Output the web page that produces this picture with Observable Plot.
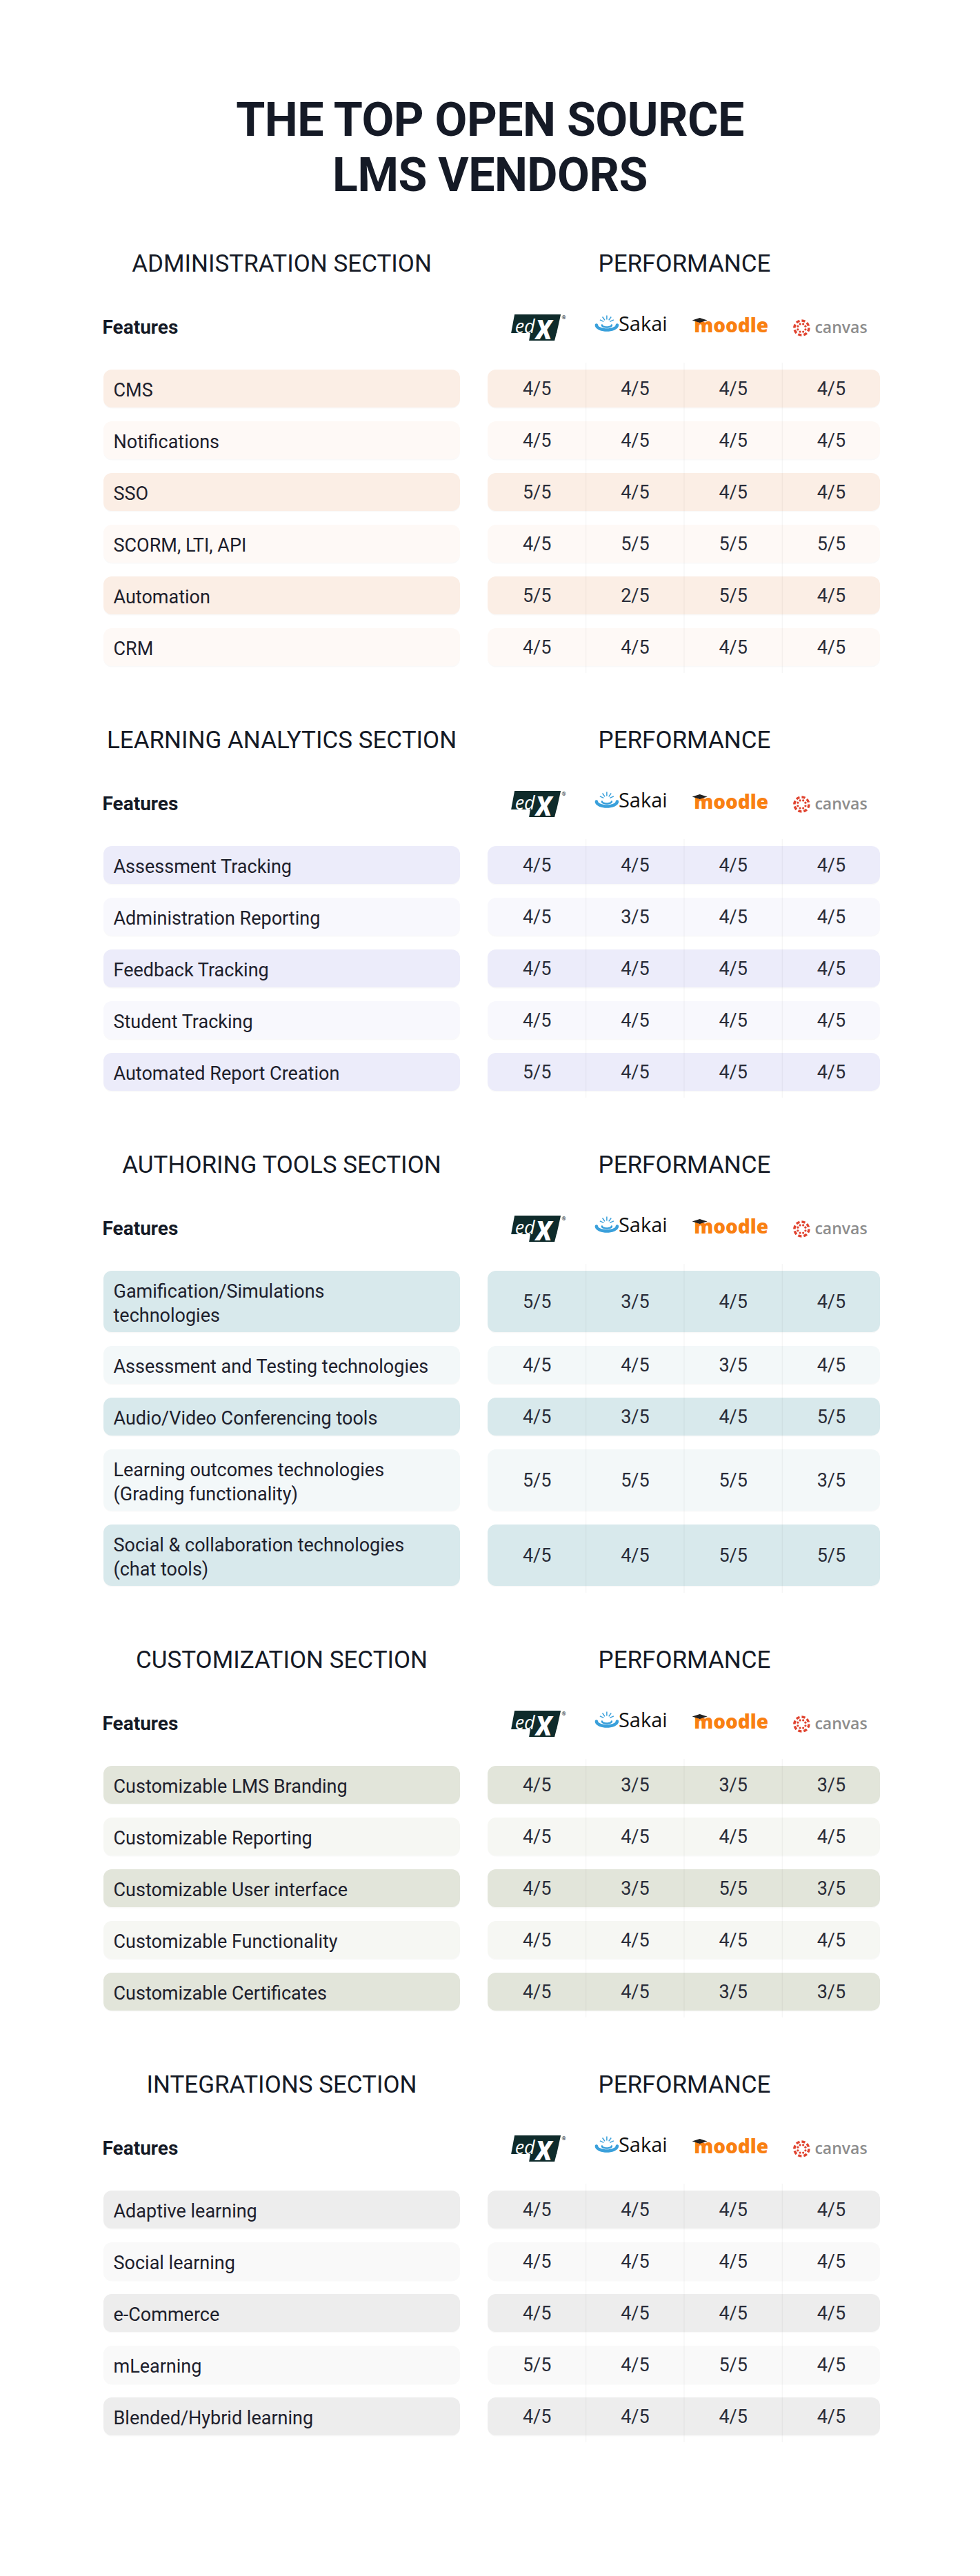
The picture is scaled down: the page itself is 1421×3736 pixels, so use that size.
<!DOCTYPE html>
<html>
<head>
<meta charset="utf-8">
<script src="https://cdn.jsdelivr.net/npm/d3@7"></script>
<script src="https://cdn.jsdelivr.net/npm/@observablehq/plot@0.6"></script>
<style>
  html, body { margin: 0; padding: 0; background: #ffffff; }
  #title {
    margin: 0; height: 320px; box-sizing: border-box; padding-top: 134px;
    text-align: center; font-family: Roboto, "Noto Sans", sans-serif; font-weight: 700;
    font-size: 68px; line-height: 80px; color: #151a26; letter-spacing: -0.5px;
  }
  #chart svg { display: block; }
</style>
</head>
<body>
<h1 id="title">THE TOP OPEN SOURCE<br>LMS VENDORS</h1>
<div id="chart"></div>
<script>
// ---------------- DATA ----------------
const vendors = ["edX", "Sakai", "moodle", "canvas"];
const maxScore = 5;
const featuresLabel = "Features";
const performanceLabel = "PERFORMANCE";
const sectionTitles = [
  "ADMINISTRATION SECTION",
  "LEARNING ANALYTICS SECTION",
  "AUTHORING TOOLS SECTION",
  "CUSTOMIZATION SECTION",
  "INTEGRATIONS SECTION"
];

const adminFeatures = ["CMS", "Notifications", "SSO", "SCORM, LTI, API", "Automation", "CRM"];
const adminScores = [[4,4,4,4],[4,4,4,4],[5,4,4,4],[4,5,5,5],[5,2,5,4],[4,4,4,4]];

const analyticsFeatures = ["Assessment Tracking", "Administration Reporting", "Feedback Tracking", "Student Tracking", "Automated Report Creation"];
const analyticsScores = [[4,4,4,4],[4,3,4,4],[4,4,4,4],[4,4,4,4],[5,4,4,4]];

const authoringFeatures = [
  "Gamification/Simulations\ntechnologies",
  "Assessment and Testing technologies",
  "Audio/Video Conferencing tools",
  "Learning outcomes technologies\n(Grading functionality)",
  "Social & collaboration technologies\n(chat tools)"
];
const authoringScores = [[5,3,4,4],[4,4,3,4],[4,3,4,5],[5,5,5,3],[4,4,5,5]];

const customFeatures = ["Customizable LMS Branding", "Customizable Reporting", "Customizable User interface", "Customizable Functionality", "Customizable Certificates"];
const customScores = [[4,3,3,3],[4,4,4,4],[4,3,5,3],[4,4,4,4],[4,4,3,3]];

const integrationFeatures = ["Adaptive learning", "Social learning", "e-Commerce", "mLearning", "Blended/Hybrid learning"];
const integrationScores = [[4,4,4,4],[4,4,4,4],[4,4,4,4],[5,4,5,4],[4,4,4,4]];

// ---------------- STYLE / LAYOUT ----------------
const palette = [
  ["#FBEEE5", "#FEF9F6"],
  ["#ECECFA", "#F8F8FD"],
  ["#D8E9EC", "#F3F8F9"],
  ["#E2E5DA", "#F6F7F3"],
  ["#EDEDED", "#F9F9F9"]
];
const W = 1421, H = 3736, TOP = 320;
const L = {
  leftX1: 150, leftX2: 667, rightX1: 707, rightX2: 1276,
  textX: 164, featX: 148, headerX: 408, perfX: 992,
  rowH1: 55, rowH2: 89, rowGap: 20, sectionGap: 261, firstRowsTop: 536,
  headerOffset: 154, featOffset: 61, sepPad: 10, radius: 12
};

const sections = [
  {title: sectionTitles[0], features: adminFeatures, scores: adminScores},
  {title: sectionTitles[1], features: analyticsFeatures, scores: analyticsScores},
  {title: sectionTitles[2], features: authoringFeatures, scores: authoringScores},
  {title: sectionTitles[3], features: customFeatures, scores: customScores},
  {title: sectionTitles[4], features: integrationFeatures, scores: integrationScores}
];

const colBand = d3.scaleBand().domain(vendors).range([L.rightX1, L.rightX2]);
const colX = v => colBand(v) + colBand.bandwidth() / 2;

// ---------------- BUILD TABLES ----------------
const rows = [], cells = [], heads = [];
let cursor = L.firstRowsTop;
sections.forEach((s, si) => {
  const top = cursor;
  s.features.forEach((f, i) => {
    const h = f.includes("\n") ? L.rowH2 : L.rowH1;
    rows.push({si, i, feature: f, y1: cursor, y2: cursor + h, yc: cursor + h / 2});
    s.scores[i].forEach((v, j) => cells.push({si, vendor: vendors[j], label: `${v}/${maxScore}`, yc: cursor + h / 2}));
    cursor += h + L.rowGap;
  });
  const bottom = cursor - L.rowGap;
  heads.push({si, title: s.title, yHead: top - L.headerOffset, yFeat: top - L.featOffset, top, bottom});
  cursor = bottom + L.sectionGap;
});

const boxes = rows.flatMap(r => [
  {...r, x1: L.leftX1, x2: L.leftX2},
  {...r, x1: L.rightX1, x2: L.rightX2}
]);
const seps = heads.flatMap(h => vendors.slice(1).map(v => ({x: colBand(v), y1: h.top - L.sepPad, y2: h.bottom + L.sepPad})));

// ---------------- LOGO GEOMETRY (decoration) ----------------
const cE = colX("edX"), cS = colX("Sakai"), cM = colX("moodle"), cC = colX("canvas");
const edxBody = heads.flatMap(h => [
  {si: h.si, y: h.yFeat - 19, x1: cE - 32, x2: cE + 35},
  {si: h.si, y: h.yFeat + 8, x1: cE - 37, x2: cE + 29}
]);
const edxTab = heads.flatMap(h => [
  {si: h.si, y: h.yFeat + 7, x1: cE - 9, x2: cE + 29},
  {si: h.si, y: h.yFeat + 19, x1: cE - 11, x2: cE + 26}
]);
const arcAngles = d3.range(0, 181, 10);
const sakaiArcs = heads.flatMap(h => [
  ...arcAngles.map(a => ({k: `${h.si}o`, x: cS - 41 + 15 * Math.cos(a * Math.PI / 180), y: h.yFeat - 4 + 7 * Math.sin(a * Math.PI / 180), w: 4.5})),
  ...arcAngles.map(a => ({k: `${h.si}i`, x: cS - 41 + 7 * Math.cos(a * Math.PI / 180), y: h.yFeat - 4 + 3 * Math.sin(a * Math.PI / 180), w: 2.5}))
]);
const rayAngles = [-155, -125, -90, -55, -25];
const sakaiRays = heads.flatMap(h => rayAngles.map(a => ({
  x1: cS - 41 + 5 * Math.cos(a * Math.PI / 180), y1: h.yFeat - 7 + 5 * Math.sin(a * Math.PI / 180),
  x2: cS - 41 + 11 * Math.cos(a * Math.PI / 180), y2: h.yFeat - 7 + 11 * Math.sin(a * Math.PI / 180)
})));
const hat = heads.flatMap(h => [
  {si: h.si, y: h.yFeat - 14, x1: cM - 48, x2: cM - 48},
  {si: h.si, y: h.yFeat - 10.5, x1: cM - 59, x2: cM - 37},
  {si: h.si, y: h.yFeat - 7, x1: cM - 48, x2: cM - 48}
]);
const canvasDots = heads.flatMap(h => d3.range(8).map(k => ({
  x: cC - 43 + 6 * Math.cos((k * 45 + 22.5) * Math.PI / 180),
  y: h.yFeat + 6 * Math.sin((k * 45 + 22.5) * Math.PI / 180)
})));

// ---------------- PLOT ----------------
const txt = "#1d202c";
const chart = Plot.plot({
  width: W, height: H - TOP, margin: 0,
  x: {type: "linear", domain: [0, W], range: [0, W], axis: null},
  y: {type: "linear", domain: [TOP, H], range: [0, H - TOP], axis: null},
  color: {type: "identity"},
  style: {background: "#ffffff", fontFamily: "Roboto, 'Noto Sans', sans-serif"},
  marks: [
    // soft shadow + row boxes
    Plot.rect(boxes, {x1: "x1", x2: "x2", y1: "y1", y2: "y2", dy: 1.5, fill: "#000", fillOpacity: 0.025, rx: L.radius}),
    Plot.rect(boxes, {x1: "x1", x2: "x2", y1: "y1", y2: "y2", fill: d => palette[d.si][d.i % 2], rx: L.radius}),
    // column separators
    Plot.ruleX(seps, {x: "x", y1: "y1", y2: "y2", stroke: "#000", strokeOpacity: 0.05, strokeWidth: 1}),
    // feature names
    Plot.text(rows, {x: L.textX, y: "yc", text: "feature", textAnchor: "start", fontSize: 27, lineHeight: 1.3, fill: txt}),
    // scores
    Plot.text(cells, {x: d => colX(d.vendor), y: "yc", text: "label", fontSize: 27, fill: "#2a2d39"}),
    // section headers
    Plot.text(heads, {x: L.headerX, y: "yHead", text: "title", fontSize: 35, fill: "#151a26"}),
    Plot.text(heads, {x: L.perfX, y: "yHead", text: () => performanceLabel, fontSize: 35, fill: "#151a26"}),
    Plot.text(heads, {x: L.featX, y: "yFeat", text: () => featuresLabel, textAnchor: "start", fontSize: 28, fontWeight: 700, fill: "#151a26"}),
    // edX logo
    Plot.areaX(edxBody, {y: "y", x1: "x1", x2: "x2", z: "si", fill: "#0f2b2b"}),
    Plot.areaX(edxTab, {y: "y", x1: "x1", x2: "x2", z: "si", fill: "#0f2b2b"}),
    Plot.text(heads, {x: cE - 32, y: d => d.yFeat - 1, text: () => "ed", textAnchor: "start", fontSize: 27, fontStyle: "italic", fill: "#ffffff", fontFamily: "'Open Sans', sans-serif"}),
    Plot.text(heads, {x: cE - 2, y: d => d.yFeat + 4, text: () => "X", textAnchor: "start", fontSize: 38, fontStyle: "italic", fontWeight: 900, fill: "#ffffff", fontFamily: "Roboto, sans-serif"}),
    Plot.text(heads, {x: cE + 39, y: d => d.yFeat - 15, text: () => "®", fontSize: 8, fill: "#0f2b2b"}),
    // Sakai logo
    Plot.line(sakaiArcs, {x: "x", y: "y", z: "k", stroke: "#3aa0db", strokeWidth: "w"}),
    Plot.link(sakaiRays, {x1: "x1", y1: "y1", x2: "x2", y2: "y2", stroke: "#3aa0db", strokeWidth: 1.5}),
    Plot.text(heads, {x: cS - 24, y: d => d.yFeat - 5, text: () => "Sakai", textAnchor: "start", fontSize: 29, fill: "#111111", fontFamily: "'Open Sans', sans-serif"}),
    // moodle logo
    Plot.text(heads, {x: cM - 57, y: d => d.yFeat - 2, text: () => "moodle", textAnchor: "start", fontSize: 28, fontWeight: 800, fill: "#f98012", fontFamily: "'Open Sans', sans-serif"}),
    Plot.areaX(hat, {y: "y", x1: "x1", x2: "x2", z: "si", fill: "#222222"}),
    // canvas logo
    Plot.dot(heads, {x: cC - 43, y: "yFeat", r: 10.5, stroke: "#e0432f", strokeWidth: 3.5, strokeDasharray: "5.2,3", fill: "none"}),
    Plot.dot(canvasDots, {x: "x", y: "y", r: 1.6, fill: "#e0432f"}),
    Plot.text(heads, {x: cC - 24, y: d => d.yFeat + 0.5, text: () => "canvas", textAnchor: "start", fontSize: 23, fontWeight: 600, fill: "#8d8d8d", fontFamily: "'Open Sans', sans-serif"})
  ]
});
document.getElementById("chart").appendChild(chart);
</script>
</body>
</html>
